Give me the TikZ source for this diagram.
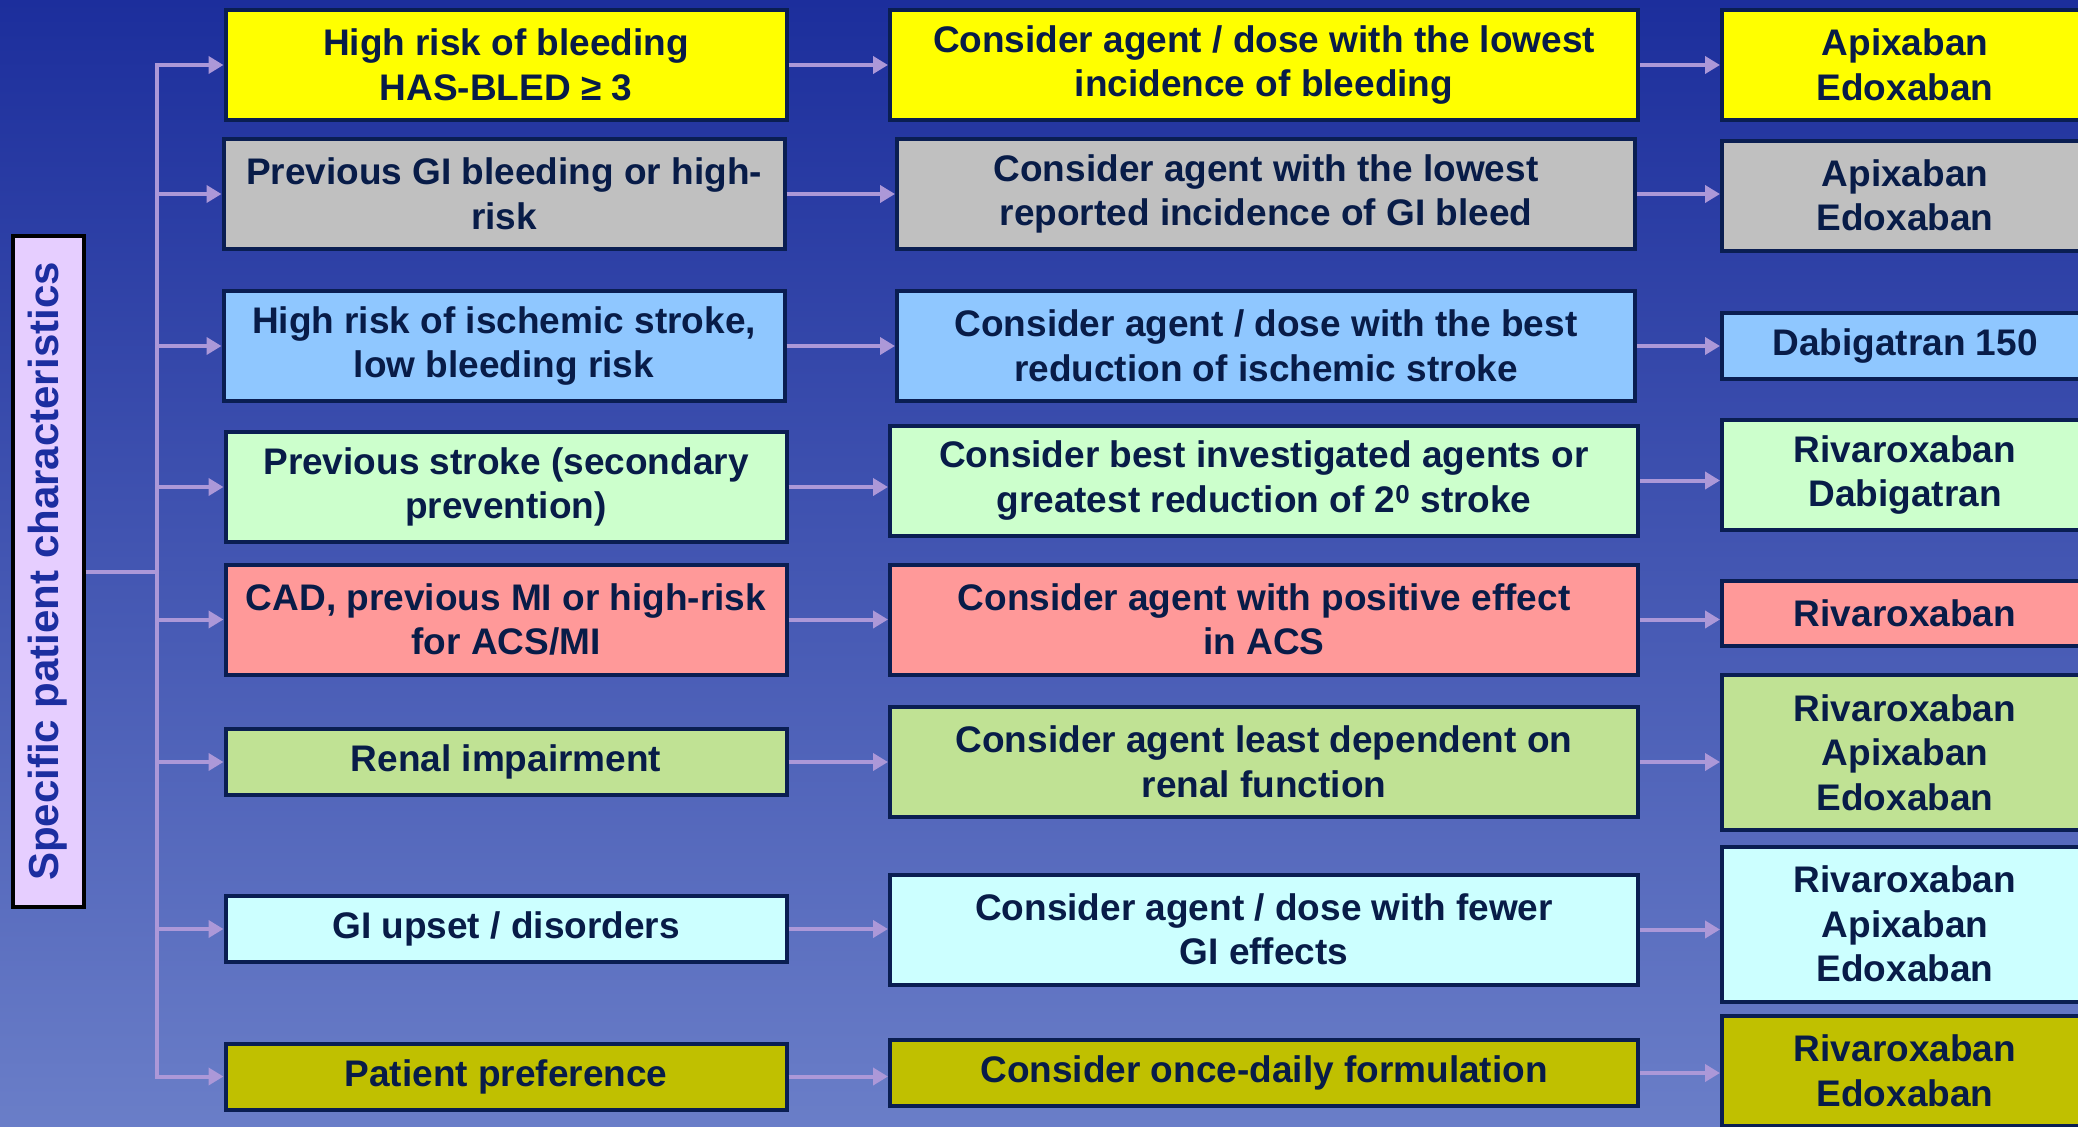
\documentclass[tikz,border=0pt]{standalone}
\usepackage{fontspec}
\setmainfont{Liberation Sans}
\usetikzlibrary{arrows.meta}
\definecolor{bgtop}{RGB}{28,46,156}
\definecolor{bgbot}{RGB}{106,126,200}
\definecolor{ink}{RGB}{8,28,72}
\definecolor{frame}{RGB}{10,30,82}
\definecolor{linkc}{RGB}{172,152,216}
\definecolor{lav}{RGB}{230,206,255}
\definecolor{labtext}{RGB}{28,46,160}
\definecolor{fYellow}{RGB}{255,255,0}
\definecolor{fGray}{RGB}{192,192,192}
\definecolor{fBlue}{RGB}{143,199,255}
\definecolor{fMint}{RGB}{204,255,204}
\definecolor{fSalmon}{RGB}{255,153,153}
\definecolor{fGreen}{RGB}{192,226,148}
\definecolor{fCyan}{RGB}{204,255,255}
\definecolor{fOlive}{RGB}{192,192,0}

\begin{document}
\begin{tikzpicture}[x=1pt,y=-1pt,
box/.style ={draw=frame, line width=4pt, text=ink, align=center, inner sep=0pt,
 font=\bfseries\fontsize{37pt}{44.5pt}\selectfont},
risk/.style ={box, minimum width=561pt},
advice/.style ={box, minimum width=748pt},
drug/.style ={box, minimum width=366pt},
one/.style ={minimum height=66pt},
two/.style ={minimum height=110pt},
three/.style ={minimum height=155pt},
wire/.style ={draw=linkc, line width=4pt},
arr/.style ={wire, -{Triangle[length=15pt,width=17pt]}}]
\useasboundingbox (0,0) rectangle (2078,1127);
\clip (0,0) rectangle (2078,1127);
\shade[top color=bgtop, bottom color=bgbot] (0,0) rectangle (2078,1127);

\node[draw=black, line width=4pt, fill=lav, text=labtext, rotate=90, inner sep=0pt,
 minimum width=671pt, minimum height=71pt,
 font=\bfseries\fontsize{42pt}{50pt}\selectfont] (lab) at (48,571.5) {Specific patient characteristics};
\coordinate (tr) at (157,0);

\node[risk,two,fill=fYellow] (c1) at (506,65) {High risk of bleeding\\HAS-BLED ≥ 3};
\node[risk,two,fill=fGray] (c2) at (504,194) {Previous GI bleeding or high-\\risk};
\node[risk,two,fill=fBlue] (c3) at (504,346) {High risk of ischemic stroke,\\low bleeding risk};
\node[risk,two,fill=fMint] (c4) at (506,487) {Previous stroke (secondary\\prevention)};
\node[risk,two,fill=fSalmon] (c5) at (506,619.5) {CAD, previous MI or high-risk\\for ACS/MI};
\node[risk,one,fill=fGreen] (c6) at (506,762) {Renal impairment};
\node[risk,one,fill=fCyan] (c7) at (506,929) {GI upset / disorders};
\node[risk,one,fill=fOlive] (c8) at (506,1076.5) {Patient preference};

\node[advice,two,fill=fYellow] (m1) at (1264,65) {Consider agent / dose with the lowest\\incidence of bleeding};
\node[advice,two,fill=fGray,minimum width=738pt] (m2) at (1266,194) {Consider agent with the lowest\\reported incidence of GI bleed};
\node[advice,two,fill=fBlue,minimum width=738pt] (m3) at (1266,346) {Consider agent / dose with the best\\reduction of ischemic stroke};
\node[advice,two,fill=fMint] (m4) at (1264,480.5) {Consider best investigated agents or\\greatest reduction of 2\textsuperscript{0} stroke};
\node[advice,two,fill=fSalmon] (m5) at (1264,619.5) {Consider agent with positive effect\\in ACS};
\node[advice,two,fill=fGreen] (m6) at (1264,762) {Consider agent least dependent on\\renal function};
\node[advice,two,fill=fCyan] (m7) at (1264,929.5) {Consider agent / dose with fewer\\GI effects};
\node[advice,one,fill=fOlive] (m8) at (1264,1073) {Consider once-daily formulation};

\node[drug,two,fill=fYellow] (r1) at (1905,65) {Apixaban\\Edoxaban};
\node[drug,two,fill=fGray] (r2) at (1905,195.5) {Apixaban\\Edoxaban};
\node[drug,one,fill=fBlue] (r3) at (1905,346) {Dabigatran 150};
\node[drug,two,fill=fMint] (r4) at (1905,475) {Rivaroxaban\\Dabigatran};
\node[drug,fill=fSalmon,minimum height=65pt] (r5) at (1905,613.5) {Rivaroxaban};
\node[drug,three,fill=fGreen] (r6) at (1905,752.5) {Rivaroxaban\\Apixaban\\Edoxaban};
\node[drug,three,fill=fCyan] (r7) at (1905,924) {Rivaroxaban\\Apixaban\\Edoxaban};
\node[drug,two,fill=fOlive] (r8) at (1905,1071) {Rivaroxaban\\Edoxaban};

\draw[wire] (lab.south) -- (lab.south -| tr);
\draw[wire, line cap=rect] (tr |- c1.west) -- (tr |- c8.west);
\draw[arr] (tr |- c1.west) -- (c1.west);
\draw[arr] (tr |- c2.west) -- (c2.west);
\draw[arr] (tr |- c3.west) -- (c3.west);
\draw[arr] (tr |- c4.west) -- (c4.west);
\draw[arr] (tr |- c5.west) -- (c5.west);
\draw[arr] (tr |- c6.west) -- (c6.west);
\draw[arr] (tr |- c7.west) -- (c7.west);
\draw[arr] (tr |- c8.west) -- (c8.west);

\draw[arr] (c1.east) -- (c1.east -| m1.west);
\draw[arr] (c2.east) -- (c2.east -| m2.west);
\draw[arr] (c3.east) -- (c3.east -| m3.west);
\draw[arr] (c4.east) -- (c4.east -| m4.west);
\draw[arr] (c5.east) -- (c5.east -| m5.west);
\draw[arr] (c6.east) -- (c6.east -| m6.west);
\draw[arr] (c7.east) -- (c7.east -| m7.west);
\draw[arr] (c8.east) -- (c8.east -| m8.west);

\draw[arr] (m1.east) -- (m1.east -| r1.west);
\draw[arr] (m2.east) -- (m2.east -| r2.west);
\draw[arr] (m3.east) -- (m3.east -| r3.west);
\draw[arr] (m4.east) -- (m4.east -| r4.west);
\draw[arr] (m5.east) -- (m5.east -| r5.west);
\draw[arr] (m6.east) -- (m6.east -| r6.west);
\draw[arr] (m7.east) -- (m7.east -| r7.west);
\draw[arr] (m8.east) -- (m8.east -| r8.west);
\end{tikzpicture}
\end{document}
